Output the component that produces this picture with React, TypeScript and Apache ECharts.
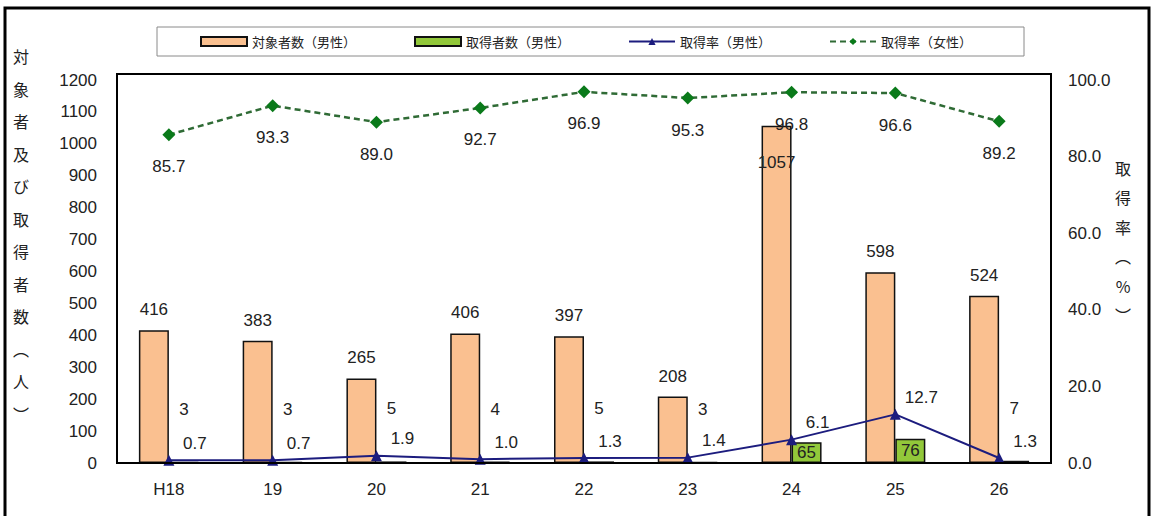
import React, { useEffect, useRef } from "react";
import * as echarts from "echarts";

const categories = ["H18", "19", "20", "21", "22", "23", "24", "25", "26"];
const targetMale = [416, 383, 265, 406, 397, 208, 1057, 598, 524];
const acquiredMale = [3, 3, 5, 4, 5, 3, 65, 76, 7];
const rateMale = [0.7, 0.7, 1.9, 1.0, 1.3, 1.4, 6.1, 12.7, 1.3];
const rateFemale = [85.7, 93.3, 89.0, 92.7, 96.9, 95.3, 96.8, 96.6, 89.2];

const seriesNames = ["対象者数（男性）", "取得者数（男性）", "取得率（男性）", "取得率（女性）"];
const leftAxisName = "対象者及び取得者数︵人︶";
const rightAxisName = "取得率︵%︶";

const NUM_FONT = "Liberation Sans, Arial, Noto Sans CJK JP, sans-serif";
const CJK_FONT = "Noto Sans CJK JP, sans-serif";

export default function App() {
  const ref = useRef<HTMLDivElement>(null);

  useEffect(() => {
    if (!ref.current) return;
    const chart = echarts.init(ref.current, null, { renderer: "svg" });
    const fmt1 = (p: any) => Number(p.value).toFixed(1);

    const option: any = {
      animation: false,
      backgroundColor: "#ffffff",
      textStyle: { fontFamily: NUM_FONT },
      grid: { left: 117, right: 103, top: 80, bottom: 53 },
      legend: {
        left: 157,
        top: 27,
        padding: [8, 52, 8, 43],
        borderColor: "#8a8a8a",
        borderWidth: 1,
        itemWidth: 46,
        itemHeight: 9,
        itemGap: 58,
        textStyle: { fontFamily: CJK_FONT, fontSize: 13, color: "#222" },
        data: [
          { name: seriesNames[0], icon: "rect" },
          { name: seriesNames[1], icon: "rect" },
          { name: seriesNames[2] },
          { name: seriesNames[3] },
        ],
      },
      xAxis: {
        type: "category",
        data: categories,
        axisLine: { show: true, lineStyle: { color: "#000", width: 2 } },
        axisTick: { show: false },
        axisLabel: { margin: 18, fontSize: 17, color: "#222", fontFamily: NUM_FONT },
      },
      yAxis: [
        {
          type: "value",
          min: 0,
          max: 1200,
          interval: 100,
          axisLine: { show: false },
          axisTick: { show: false },
          splitLine: { show: false },
          axisLabel: {
            margin: 20,
            fontSize: 17,
            color: "#222",
            fontFamily: NUM_FONT,
            formatter: (v: number) => String(v),
          },
        },
        {
          type: "value",
          position: "right",
          min: 0,
          max: 100,
          interval: 20,
          axisLine: { show: false },
          axisTick: { show: false },
          splitLine: { show: false },
          axisLabel: {
            margin: 17,
            fontSize: 17,
            color: "#222",
            fontFamily: NUM_FONT,
            formatter: (v: number) => v.toFixed(1),
          },
        },
      ],
      series: [
        {
          name: seriesNames[0],
          type: "bar",
          barWidth: 30,
          barGap: "0%",
          itemStyle: { color: "#FAC090", borderColor: "#111", borderWidth: 1.5 },
          label: { show: true, position: "top", distance: 12, fontSize: 17, color: "#222" },
          data: targetMale.map((v) =>
            v > 1000 ? { value: v, label: { position: "insideTop", distance: 28 } } : v
          ),
        },
        {
          name: seriesNames[1],
          type: "bar",
          barWidth: 30,
          barGap: "0%",
          itemStyle: { color: "#92C83A", borderColor: "#111", borderWidth: 1.5 },
          label: { show: true, position: "top", distance: 44, fontSize: 17, color: "#222" },
          data: acquiredMale.map((v) =>
            v >= 50 ? { value: v, label: { position: "inside", distance: 0 } } : v
          ),
        },
        {
          name: seriesNames[2],
          type: "line",
          yAxisIndex: 1,
          color: "#1C1C7E",
          symbol: "triangle",
          symbolSize: 11,
          lineStyle: { color: "#1C1C7E", width: 2 },
          itemStyle: { color: "#1C1C7E" },
          label: {
            show: true,
            position: "top",
            offset: [26, 2],
            fontSize: 17,
            color: "#222",
            formatter: fmt1,
          },
          data: rateMale,
        },
        {
          name: seriesNames[3],
          type: "line",
          yAxisIndex: 1,
          color: "#0A7A1A",
          symbol: "diamond",
          symbolSize: 13,
          lineStyle: { color: "#2F6B35", width: 2.5, type: [6, 4] },
          itemStyle: { color: "#0A7A1A" },
          label: {
            show: true,
            position: "bottom",
            distance: 17,
            fontSize: 17,
            color: "#222",
            formatter: fmt1,
          },
          data: rateFemale,
        },
      ],
      graphic: [
        {
          type: "rect",
          z: 100,
          silent: true,
          shape: { x: 117, y: 74, width: 934, height: 389 },
          style: { fill: "none", stroke: "#000", lineWidth: 2 },
        },
        {
          type: "rect",
          z: 100,
          silent: true,
          shape: { x: 5, y: 8, width: 1144, height: 530 },
          style: { fill: "none", stroke: "#000", lineWidth: 3 },
        },
        {
          type: "text",
          z: 100,
          x: 21,
          y: 40,
          style: {
            text: leftAxisName.split("").join("\n"),
            font: "16px " + CJK_FONT,
            fill: "#222",
            align: "center",
            verticalAlign: "top",
            lineHeight: 32.5,
          },
        },
        {
          type: "text",
          z: 100,
          x: 1123,
          y: 153,
          style: {
            text: rightAxisName.split("").join("\n"),
            font: "16px " + CJK_FONT,
            fill: "#222",
            align: "center",
            verticalAlign: "top",
            lineHeight: 29.5,
          },
        },
      ],
    };

    chart.setOption(option);
    return () => chart.dispose();
  }, []);

  return (
    <div
      ref={ref}
      style={{ position: "fixed", left: 0, top: 0, width: 1154, height: 516, background: "#fff" }}
    />
  );
}
